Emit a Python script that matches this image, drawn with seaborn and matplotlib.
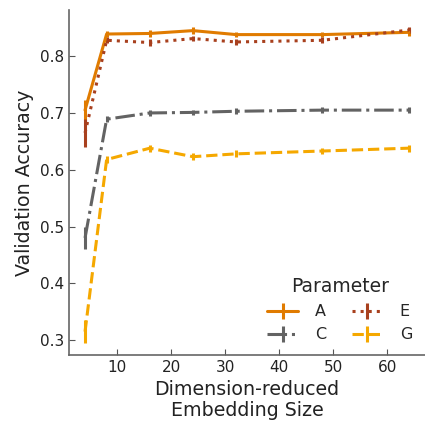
import matplotlib
matplotlib.use("Agg")
import matplotlib.pyplot as plt
import seaborn as sns
import numpy as np
import pandas as pd

sns.set_style("ticks")
plt.rcParams['font.family'] = ['DejaVu Sans']

sizes = [4, 8, 16, 24, 32, 48, 64]
params = ["A", "C", "E", "G"]
acc_A = [0.705, 0.839, 0.840, 0.845, 0.838, 0.838, 0.842]
err_A = [0.018, 0.006, 0.006, 0.006, 0.005, 0.005, 0.006]
acc_C = [0.480, 0.689, 0.700, 0.701, 0.703, 0.705, 0.705]
err_C = [0.020, 0.005, 0.005, 0.005, 0.005, 0.005, 0.005]
acc_E = [0.665, 0.828, 0.824, 0.831, 0.825, 0.828, 0.846]
err_E = [0.025, 0.005, 0.006, 0.005, 0.005, 0.005, 0.006]
acc_G = [0.315, 0.618, 0.638, 0.623, 0.628, 0.633, 0.638]
err_G = [0.020, 0.006, 0.006, 0.006, 0.006, 0.006, 0.006]

colors = {"A": "#E07B00", "C": "#636363", "E": "#A8401E", "G": "#F5A800"}
styles = {"A": "-", "C": "-.", "E": ":", "G": "--"}
data = {"A": (acc_A, err_A), "C": (acc_C, err_C), "E": (acc_E, err_E), "G": (acc_G, err_G)}

fig = plt.figure(figsize=(4.25, 4.24), dpi=100)
ax = fig.add_axes([0.162, 0.163, 0.838, 0.813])

for p in params:
    m, e = data[p]
    ax.errorbar(sizes, m, yerr=e, color=colors[p], linestyle=styles[p],
                linewidth=2.2, elinewidth=2.2, capsize=0, label=p)

ax.set_xlim(1, 67)
ax.set_ylim(0.274, 0.881)
ax.set_xticks([10, 20, 30, 40, 50, 60])
ax.set_yticks([0.3, 0.4, 0.5, 0.6, 0.7, 0.8])
ax.tick_params(direction="in", labelsize=11, colors="#555555", labelcolor="#222222", length=4)
for s in ["left", "bottom"]:
    ax.spines[s].set_color("#666666")
    ax.spines[s].set_linewidth(1.2)
sns.despine(ax=ax)
ax.set_xlabel("Dimension-reduced\nEmbedding Size", fontsize=13.7, color="#222222", linespacing=1.1)
ax.set_ylabel("Validation Accuracy", fontsize=13.7, color="#222222")

leg = ax.legend(title="Parameter", ncol=2, loc="lower right", frameon=False,
                fontsize=11.5, title_fontsize=13.5, handlelength=1.9, columnspacing=1.6,
                borderaxespad=0.4, handletextpad=1.1)

fig.savefig("out.png", dpi=100)
